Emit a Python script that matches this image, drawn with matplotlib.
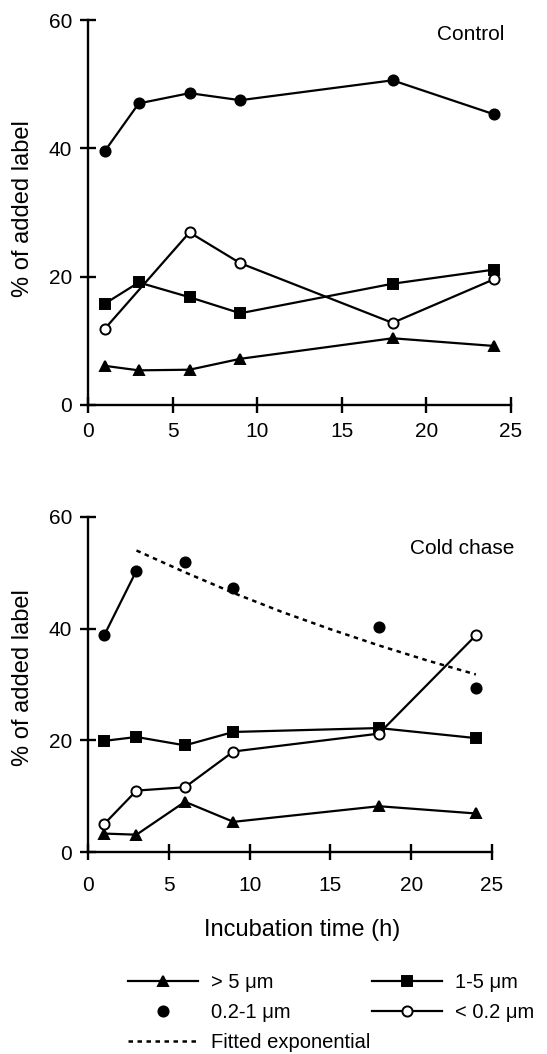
import numpy as np
import matplotlib
matplotlib.use("Agg")
import matplotlib.pyplot as plt

plt.rcParams['font.family'] = ['Liberation Sans', 'DejaVu Sans']

# incubation times (h)
hours = [1, 3, 6, 9, 18, 24]
hours_small = [1, 6, 9, 18, 24]

# Control panel (% of added label)
ctrl_gt5 = [6.1, 5.4, 5.5, 7.2, 10.4, 9.2]
ctrl_1to5 = [15.8, 19.1, 16.8, 14.3, 18.9, 21.1]
ctrl_02to1 = [39.6, 47.0, 48.6, 47.5, 50.6, 45.3]
ctrl_lt02 = [11.9, 26.9, 22.1, 12.8, 19.6]

# Cold chase panel
cold_gt5 = [3.3, 3.1, 9.0, 5.4, 8.2, 6.9]
cold_1to5 = [19.9, 20.6, 19.1, 21.5, 22.2, 20.4]
cold_02to1 = [38.8, 50.4, 51.9, 47.3, 40.3, 29.4]
cold_lt02 = [5.0, 11.0, 11.6, 18.0, 21.2, 38.8]

# fitted exponential
fit_hours = [3, 6, 9, 12, 15, 18, 21, 24]
fit_vals = [54.0, 50.1, 46.4, 43.0, 39.9, 37.0, 34.3, 31.8]

xticks = [0, 5, 10, 15, 20, 25]
yticks = [0, 20, 40, 60]

W, H = 547, 1054
fig = plt.figure(figsize=(W / 100, H / 100), dpi=100)

lw = 1.6
ms = 7.3


def axes_px(left, right, top, bottom):
    return fig.add_axes([left / W, 1 - bottom / H, (right - left) / W, (bottom - top) / H])


def style_axes(ax, xpad):
    ax.set_xlim(0, 25)
    ax.set_ylim(0, 60)
    ax.set_xticks(xticks)
    ax.set_yticks(yticks)
    for s in ['top', 'right']:
        ax.spines[s].set_visible(False)
    for s in ['left', 'bottom']:
        ax.spines[s].set_linewidth(1.7)
    ax.tick_params(axis='both', direction='inout', length=11, width=1.7, labelsize=15)
    ax.tick_params(axis='y', pad=6)
    ax.tick_params(axis='x', pad=xpad)
    ax.set_ylabel('% of added label', fontsize=17)


def series(ax, x, y, marker, face, line=True, label=None):
    ax.plot(x, y, color='black', lw=lw if line else 0, marker=marker, ms=ms,
            mfc=face, mec='black', mew=1.4, clip_on=False, label=label,
            linestyle='-' if line else 'none')


# top panel: Control
ax1 = axes_px(88, 511, 20, 405)
style_axes(ax1, 7)
ax1.yaxis.set_label_coords(-54 / 423, 0.51)
series(ax1, hours, ctrl_gt5, '^', 'black')
series(ax1, hours, ctrl_1to5, 's', 'black')
series(ax1, hours_small, ctrl_lt02, 'o', 'white')
series(ax1, hours, ctrl_02to1, 'o', 'black')
ax1.text(20.6, 57.7, 'Control', fontsize=15, ha='left', va='center')

# bottom panel: Cold chase
ax2 = axes_px(88, 492, 517, 852)
style_axes(ax2, 12)
ax2.yaxis.set_label_coords(-54 / 404, 0.52)
series(ax2, hours, cold_gt5, '^', 'black', label='> 5 \u03bcm')
series(ax2, hours, cold_1to5, 's', 'black', label='1-5 \u03bcm')
series(ax2, hours, cold_lt02, 'o', 'white', label='< 0.2 \u03bcm')
ax2.plot(hours[:2], cold_02to1[:2], color='black', lw=lw)
series(ax2, hours, cold_02to1, 'o', 'black', line=False, label='0.2-1 \u03bcm')
ax2.plot(fit_hours, fit_vals, color='black', lw=1.8, linestyle=(0, (1.8, 1.8)),
         label='Fitted exponential')
ax2.text(19.9, 54.3, 'Cold chase', fontsize=15, ha='left', va='center')

fig.text(302 / W, 1 - 930 / H, 'Incubation time (h)', fontsize=17, ha='center', va='center')

# legend under the lower panel
handles, labels = ax2.get_legend_handles_labels()
order = ['> 5 \u03bcm', '0.2-1 \u03bcm', 'Fitted exponential', '1-5 \u03bcm', '< 0.2 \u03bcm']
hmap = dict(zip(labels, handles))
fig.legend([hmap[k] for k in order], order, ncol=2, loc='upper left',
           bbox_to_anchor=(128 / W, 1 - 973 / H), frameon=False, fontsize=14.5,
           handlelength=3.5, handletextpad=0.6, columnspacing=0.1,
           labelspacing=0.55, borderpad=0, borderaxespad=0)

fig.savefig('out.png', dpi=100)
